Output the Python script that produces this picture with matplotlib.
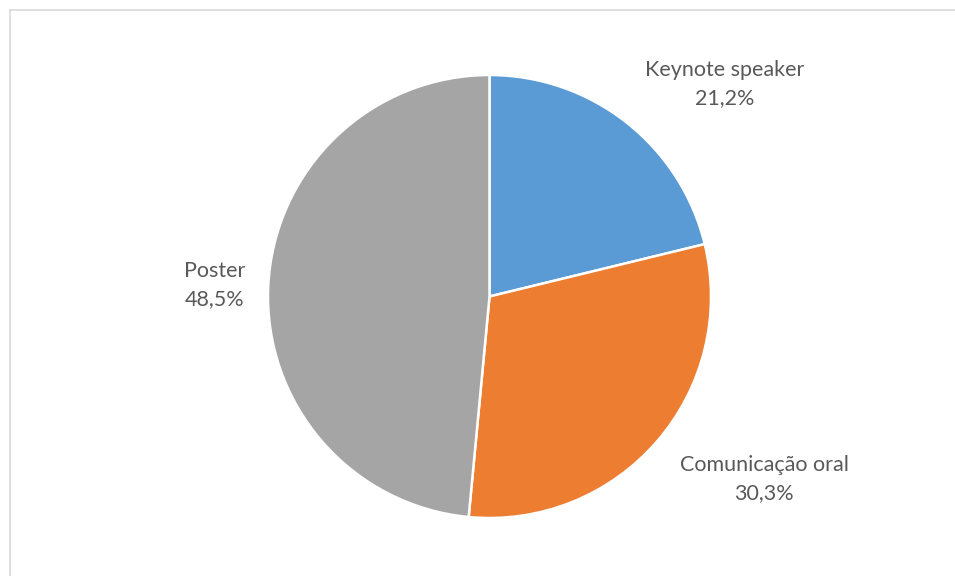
import matplotlib
matplotlib.use("Agg")
import matplotlib.pyplot as plt
from matplotlib.lines import Line2D

categories = ["Keynote speaker", "Comunicação oral", "Poster"]
values = [21.2, 30.3, 48.5]
colors = ["#5B9BD5", "#ED7D31", "#A5A5A5"]
# label anchor positions (pixel coords, top-left origin)
label_pos = [(725, 84), (764, 479), (215, 285)]

W, H = 955, 576
fig = plt.figure(figsize=(W / 100, H / 100), dpi=100)
fig.patch.set_facecolor("white")
ax = fig.add_axes([0, 0, 1, 1])

cx, cy, r = 489.5, H - 296.5, 221.5
ax.pie(values, colors=colors, startangle=90, counterclock=False,
       center=(cx, cy), radius=r, frame=True,
       wedgeprops=dict(edgecolor="white", linewidth=1.8))
ax.set_xlim(0, W)
ax.set_ylim(0, H)
ax.set_aspect("equal")
ax.axis("off")

for name, v, (px, py) in zip(categories, values, label_pos):
    txt = f"{name}\n{v:.1f}%".replace(".", ",")
    ax.text(px, H - py, txt, ha="center", va="center", fontsize=15.5,
            color="#595959", family=["Lato", "DejaVu Sans"], linespacing=1.45)

# chart area border (top and left visible)
fig.add_artist(Line2D([9.5 / W, 1.0], [1 - 9.5 / H, 1 - 9.5 / H],
                      transform=fig.transFigure, color="#D9D9D9", linewidth=1.2))
fig.add_artist(Line2D([9.5 / W, 9.5 / W], [0, 1 - 9.5 / H],
                      transform=fig.transFigure, color="#D9D9D9", linewidth=1.2))

fig.savefig("out.png", dpi=100, facecolor="white")
